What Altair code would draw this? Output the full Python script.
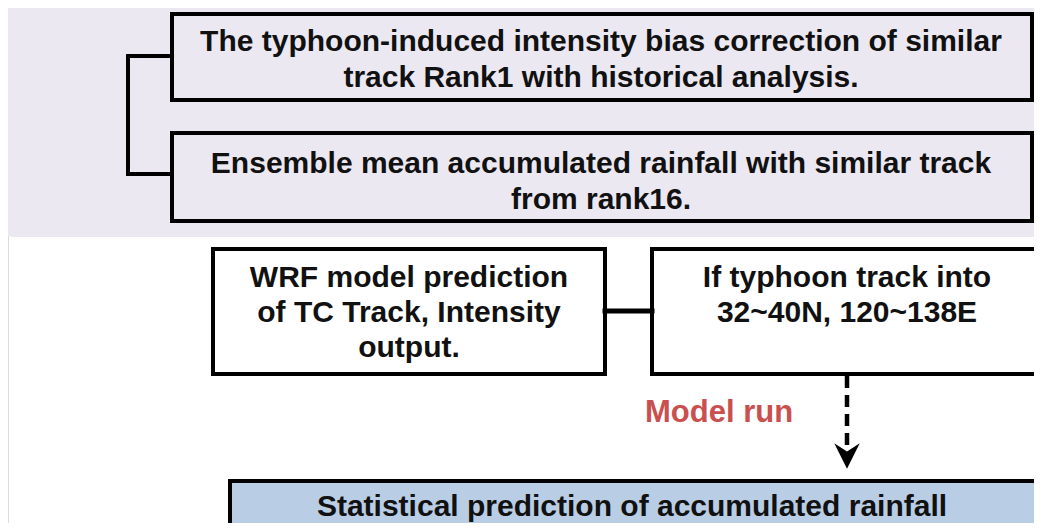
import altair as alt
import pandas as pd

W, H = 1034, 523   # page coordinates of the right / bottom edge of the drawing
M = 8              # page margin
FONT = "Liberation Sans"

# ---- boxes ----
box_names = ["bias", "ensemble", "wrf", "track", "stat"]
box_x0 = [172, 172, 213, 652, 230]
box_x1 = [1032, 1032, 605, 1036, 1036]
box_y0 = [14, 133, 249, 249, 481]
box_y1 = [100, 221, 374, 374, 570]
box_fill = ["#ebe8f1", "#ebe8f1", "#ffffff", "#ffffff", "#b9cde5"]

# ---- text lines ----
text_lines = [
    "The typhoon-induced intensity bias correction of similar",
    "track Rank1 with historical analysis.",
    "Ensemble mean accumulated rainfall with similar track",
    "from rank16.",
    "WRF model prediction",
    "of TC Track, Intensity",
    "output.",
    "If typhoon track into",
    "32~40N, 120~138E",
    "Statistical  prediction of accumulated rainfall",
]
text_x = [601, 601, 601, 601, 409, 409, 409, 847, 847, 632]
text_y = [42, 78, 164, 200, 278, 313, 348, 278, 313, 507]

label_text = ["Model run"]
label_x = [645]
label_y = [413]

# ---- connectors (solid) ----
seg_x0 = [128, 128, 128, 605]
seg_x1 = [128, 172, 172, 652]
seg_y0 = [56, 56, 174, 311]
seg_y1 = [174, 56, 174, 311]
seg_w = [4, 4, 4, 5]

# ---- dashed arrow ----
arrow_x = [847]
arrow_y0 = [376]
arrow_y1 = [450]
head_y = [456]

# ---- background panel ----
panel_x0, panel_x1, panel_y0, panel_y1 = [-20], [1080], [-60], [237]

xs = alt.Scale(domain=[M, W], nice=False, zero=False)
ys = alt.Scale(domain=[M, H], nice=False, zero=False, reverse=True)

panel = alt.Chart(pd.DataFrame({"x": panel_x0, "x2": panel_x1, "y": panel_y0, "y2": panel_y1})).mark_rect(
    color="#ebe8f1", cornerRadius=36
).encode(
    x=alt.X("x:Q", scale=xs, axis=None), x2="x2:Q",
    y=alt.Y("y:Q", scale=ys, axis=None), y2="y2:Q",
)

boxes_df = pd.DataFrame({"name": box_names, "x": box_x0, "x2": box_x1, "y": box_y0, "y2": box_y1, "fill": box_fill})
boxes = alt.Chart(boxes_df).mark_rect(stroke="#000000", strokeWidth=4).encode(
    x=alt.X("x:Q", scale=xs, axis=None), x2="x2:Q",
    y=alt.Y("y:Q", scale=ys, axis=None), y2="y2:Q",
    fill=alt.Fill("fill:N", scale=None),
)

segs_df = pd.DataFrame({"x": seg_x0, "x2": seg_x1, "y": seg_y0, "y2": seg_y1, "w": seg_w})
segs = alt.Chart(segs_df).mark_rule(color="#000000", strokeCap="square").encode(
    x=alt.X("x:Q", scale=xs, axis=None), x2="x2:Q",
    y=alt.Y("y:Q", scale=ys, axis=None), y2="y2:Q",
    strokeWidth=alt.StrokeWidth("w:Q", scale=None),
)

dash = alt.Chart(pd.DataFrame({"x": arrow_x, "y": arrow_y0, "y2": arrow_y1})).mark_rule(
    color="#000000", strokeWidth=4.5, strokeDash=[12, 7]
).encode(
    x=alt.X("x:Q", scale=xs, axis=None),
    y=alt.Y("y:Q", scale=ys, axis=None), y2="y2:Q",
)

head = alt.Chart(pd.DataFrame({"x": arrow_x, "y": head_y})).mark_point(
    shape="M-1,-1L0,1L1,-1L0,-0.35Z", filled=True, color="#000000", size=650, opacity=1
).encode(
    x=alt.X("x:Q", scale=xs, axis=None),
    y=alt.Y("y:Q", scale=ys, axis=None),
)

texts = alt.Chart(pd.DataFrame({"t": text_lines, "x": text_x, "y": text_y})).mark_text(
    font=FONT, fontSize=30, fontWeight="bold", color="#111111", align="center", baseline="middle"
).encode(
    x=alt.X("x:Q", scale=xs, axis=None),
    y=alt.Y("y:Q", scale=ys, axis=None),
    text="t:N",
)

label = alt.Chart(pd.DataFrame({"t": label_text, "x": label_x, "y": label_y})).mark_text(
    font=FONT, fontSize=31, fontWeight="bold", color="#c9504f", align="left", baseline="middle"
).encode(
    x=alt.X("x:Q", scale=xs, axis=None),
    y=alt.Y("y:Q", scale=ys, axis=None),
    text="t:N",
)

chart = alt.layer(panel, boxes, segs, dash, head, texts, label).properties(
    width=W - M, height=H - M, padding=0, autosize=alt.AutoSizeParams(type="none")
).configure_view(stroke=None).configure(background="#ffffff")

chart.save("out.html", embed_options={"renderer": "svg", "actions": False})
